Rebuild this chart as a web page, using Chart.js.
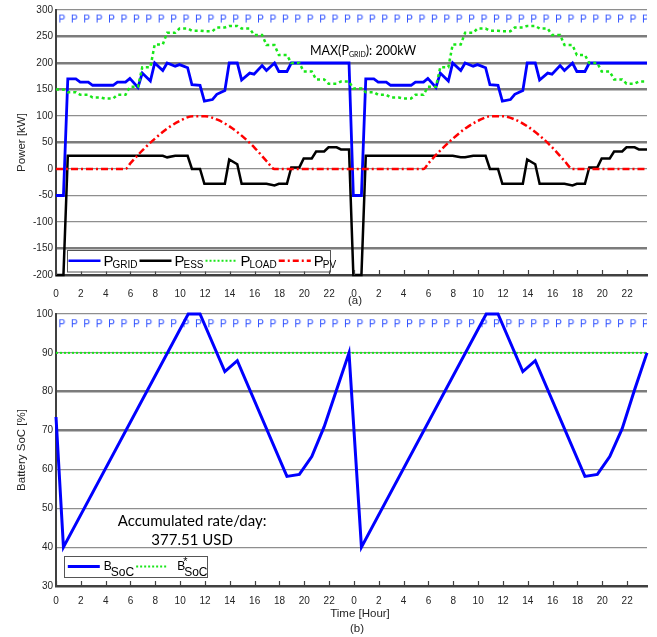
<!DOCTYPE html>
<html>
<head>
<meta charset="utf-8">
<script src="https://cdn.jsdelivr.net/npm/chart.js@4.4.1/dist/chart.umd.min.js"></script>
<style>
html, body { margin: 0; padding: 0; background: #fff; }
#wrap { position: relative; width: 657px; height: 637px; }
#boxA { position: absolute; left: 0; top: 0; width: 657px; height: 310px; }
#boxB { position: absolute; left: 0; top: 305px; width: 657px; height: 332px; }
</style>
</head>
<body>
<div id="wrap">
  <div id="boxA"><canvas id="chartA"></canvas></div>
  <div id="boxB"><canvas id="chartB"></canvas></div>
</div>
<script>
// ---- data ----
const hours = Array.from({ length: 48 }, (_, h) => h);
// every hourly value is held from just before the hour to ~h+0.6, then ramps to the next one
const stepTimes = hours.flatMap(h => [h === 0 ? 0 : h - 0.05, h + 0.6]);

const xTickLabels = ['0', '2', '4', '6', '8', '10', '12', '14', '16', '18', '20', '22',
                     '0', '2', '4', '6', '8', '10', '12', '14', '16', '18', '20', '22'];

// P_GRID [kW], two readings per hour
const pGrid = [
  -50, -50, 170, 170, 164, 164, 158, 158, 158, 158, 164, 164, 171, 154, 181, 166,
  200, 186, 200, 194, 197, 191, 159, 158, 128, 131, 141, 148, 200, 200, 168, 181,
  179, 195, 186, 200, 184, 184, 200, 200, 200, 200, 200, 200, 200, 200, 200, 200,
  -50, -50, 170, 170, 164, 164, 158, 158, 158, 158, 164, 164, 171, 154, 181, 166,
  200, 186, 200, 194, 197, 191, 159, 158, 128, 131, 141, 148, 200, 200, 168, 181,
  179, 195, 186, 200, 184, 184, 200, 200, 200, 200, 200, 200, 200, 200, 200, 200
];

// P_ESS [kW], two readings per hour
const pEss = [
  -200, -200, 25, 25, 25, 25, 25, 25, 25, 25, 25, 25, 25, 25, 25, 25,
  25, 25, 22, 25, 25, 25, 0, 0, -28, -28, -28, -28, 18, 9, -28, -28,
  -28, -28, -28, -31, -28, -28, 3, 3, 20, 20, 33, 33, 41, 41, 37, 37,
  -200, -200, 25, 25, 25, 25, 25, 25, 25, 25, 25, 25, 25, 25, 25, 25,
  25, 22, 22, 25, 25, 25, 0, 0, -28, -28, -28, -28, 18, 9, -28, -28,
  -28, -28, -28, -31, -28, -28, 3, 3, 20, 20, 33, 33, 41, 41, 37, 37
];

// P_LOAD [kW], one reading per hour
const pLoad = [
  150, 145, 140, 135, 133, 140, 155, 192, 235, 257, 265, 261,
  260, 267, 270, 265, 253, 234, 215, 200, 184, 169, 161, 165,
  152, 145, 140, 135, 133, 140, 155, 192, 235, 257, 265, 261,
  260, 267, 270, 265, 253, 234, 215, 200, 184, 169, 161, 165
];

// P_PV [kW]
const pvTimes = [0, 5.6, 6, 7, 8, 9, 10, 11, 12, 13, 14, 15, 16, 17, 17.6,
                 29.6, 30, 31, 32, 33, 34, 35, 36, 37, 38, 39, 40, 41, 41.6, 47.6];
const pvValues = [0, 0, 11, 36, 58, 77, 91, 99.5, 99.5, 93, 80, 62, 40, 14, 0,
                  0, 11, 36, 58, 77, 91, 99.5, 99.5, 93, 80, 62, 40, 14, 0, 0];

// battery state of charge [%]
const socTimes = [0, 0.6, 10.65, 11.6, 13.6, 14.6, 18.6, 19.6, 20.6, 21.6, 22.6, 23.6,
                  24.6, 34.65, 35.6, 37.6, 38.6, 42.6, 43.6, 44.6, 45.6, 46.6, 47.6];
const socValues = [73.5, 40, 100, 100, 85.2, 88, 58.2, 58.7, 63.3, 71, 80.5, 90,
                   40, 100, 100, 85.2, 88, 58.2, 58.7, 63.3, 70.5, 80.5, 90];
const socTarget = 90;

const pMarkTimes = hours.map(h => h + 0.47);

// ---- helpers ----
const FONT = '"Liberation Sans", Arial, sans-serif';
const TXT = '#262626';

function letterP() {
  const c = document.createElement('canvas');
  c.width = 9; c.height = 11;
  const g = c.getContext('2d');
  g.fillStyle = '#2448ff';
  g.font = '10px ' + FONT;
  g.textAlign = 'center';
  g.textBaseline = 'middle';
  g.fillText('P', 4.5, 6);
  return c;
}
const pImg = letterP();

const xy = (ts, vs) => ts.map((t, i) => ({ x: t, y: vs[i] }));

// MATLAB-like inner x ticks, legend with subscripts, free text
const decor = {
  id: 'decor',
  afterDraw(chart, args, opts) {
    const { ctx, chartArea, scales: { x, y } } = chart;
    ctx.save();
    // inner ticks on the time axis
    ctx.strokeStyle = '#404040';
    ctx.lineWidth = 1.2;
    for (const t of x.ticks) {
      const px = Math.round(x.getPixelForValue(t.value)) + 0.5;
      ctx.beginPath();
      ctx.moveTo(px, chartArea.bottom);
      ctx.lineTo(px, chartArea.bottom - 5);
      ctx.stroke();
    }
    // text notes in data coordinates
    for (const n of opts.notes || []) {
      let w = 0;
      for (const p of n.parts) { ctx.font = p.font; w += ctx.measureText(p.text).width; }
      let px = x.getPixelForValue(n.x) - (n.center ? w / 2 : 0);
      const py = y.getPixelForValue(n.y);
      ctx.fillStyle = '#000';
      ctx.textBaseline = 'alphabetic';
      ctx.textAlign = 'left';
      for (const p of n.parts) {
        ctx.font = p.font;
        ctx.fillText(p.text, px, py + (p.dy || 0));
        px += ctx.measureText(p.text).width;
      }
    }
    // captions below the axis
    ctx.fillStyle = TXT;
    ctx.textAlign = 'center';
    ctx.textBaseline = 'middle';
    ctx.font = '11.5px ' + FONT;
    for (const c of opts.captions || []) ctx.fillText(c.text, c.x, c.y);
    // legend
    const lg = opts.legend;
    if (lg) {
      const x0 = chartArea.left + lg.dx, y0 = chartArea.bottom - lg.dy;
      ctx.fillStyle = '#fff';
      ctx.fillRect(x0, y0, lg.w, lg.h);
      ctx.strokeStyle = '#555';
      ctx.lineWidth = 1;
      ctx.strokeRect(Math.round(x0) + 0.5, Math.round(y0) + 0.5, lg.w, lg.h);
      const ym = y0 + lg.h / 2;
      let cx = x0 + lg.pad;
      ctx.textAlign = 'left';
      ctx.textBaseline = 'alphabetic';
      for (const it of lg.items) {
        ctx.strokeStyle = it.color;
        ctx.lineWidth = it.width;
        ctx.setLineDash(it.dash || []);
        ctx.beginPath();
        ctx.moveTo(cx, ym);
        ctx.lineTo(cx + lg.sample, ym);
        ctx.stroke();
        ctx.setLineDash([]);
        cx += lg.sample + it.gap;
        ctx.fillStyle = '#000';
        ctx.font = lg.mainFont;
        ctx.fillText(it.main, cx, ym + lg.mainBase);
        const mw = ctx.measureText(it.main).width;
        if (it.sup) {
          ctx.font = lg.supFont;
          ctx.fillText(it.sup, cx + mw - 2, ym + lg.supBase);
        }
        cx += mw;
        ctx.font = lg.subFont;
        ctx.fillText(it.sub, cx - 1, ym + lg.subBase);
        cx += ctx.measureText(it.sub).width + 1;
      }
    }
    ctx.restore();
  }
};

function xScale(pad, height) {
  return {
    type: 'linear', min: 0, max: 47.6,
    afterFit: s => { s.height = height; },
    ticks: {
      stepSize: 2, includeBounds: false, padding: pad, color: TXT,
      font: { family: FONT, size: 10 }, maxRotation: 0, autoSkip: false,
      callback: (v, i) => xTickLabels[i]
    },
    grid: { display: false, drawTicks: false },
    border: { color: '#404040', width: 2.5 }
  };
}

function yScale(min, max, step, thick, title) {
  return {
    min, max,
    afterFit: s => { s.width = 56; },
    ticks: { stepSize: step, padding: 3, color: TXT, font: { family: FONT, size: 10 } },
    grid: {
      drawTicks: false,
      color: c => thick.includes(c.tick && c.tick.value) ? '#7c7c7c' : '#8e8e8e',
      lineWidth: c => thick.includes(c.tick && c.tick.value) ? 2.6 : 1.2
    },
    border: { color: '#404040', width: 2 },
    title: { display: true, text: title, color: TXT, padding: { top: 15, bottom: 0 },
             font: { family: FONT, size: 11.5 } }
  };
}

const sharedPlugins = { legend: { display: false }, tooltip: { enabled: false } };

// ---- chart (a) ----
new Chart(document.getElementById('chartA'), {
  type: 'line',
  data: {
    datasets: [
      { label: 'P', data: pMarkTimes.map(t => ({ x: t, y: 283 })), showLine: false,
        pointStyle: pImg, pointRadius: 4, order: 0 },
      { label: 'PV', data: xy(pvTimes, pvValues), borderColor: '#ff0000', borderWidth: 2.5,
        borderDash: [7, 3, 2, 3], cubicInterpolationMode: 'monotone', pointRadius: 0, order: 1, clip: false },
      { label: 'LOAD', data: xy(stepTimes, stepTimes.map((t, i) => pLoad[i >> 1])), borderColor: '#19e619',
        borderWidth: 2.5, borderDash: [3, 3], pointRadius: 0, order: 2, clip: false },
      { label: 'ESS', data: xy(stepTimes, pEss), borderColor: '#000000', borderWidth: 2.5,
        pointRadius: 0, order: 3, clip: false },
      { label: 'GRID', data: xy(stepTimes, pGrid), borderColor: '#0000ff', borderWidth: 2.8,
        pointRadius: 0, order: 4, clip: false }
    ]
  },
  options: {
    responsive: true, maintainAspectRatio: false, animation: false,
    layout: { padding: { top: 10, right: 10, left: 0, bottom: 0 } },
    scales: {
      x: xScale(13, 35),
      y: yScale(-200, 300, 50, [250, 200, 150, 50, -150], 'Power [kW]')
    },
    plugins: Object.assign({}, sharedPlugins, {
      decor: {
        notes: [
          { x: 20.45, y: 215, parts: [
            { text: 'MAX(P', font: '12.5px Lato, sans-serif' },
            { text: 'GRID', font: '7px Lato, sans-serif', dy: 1.5 },
            { text: '): 200kW', font: '12.5px Lato, sans-serif' } ] }
        ],
        captions: [{ text: '(a)', x: 355, y: 301 }],
        legend: {
          dx: 10.5, dy: 25, w: 263, h: 21.5, pad: 2, sample: 32,
          mainFont: '15px ' + FONT, subFont: '10px "Liberation Sans Narrow", ' + FONT,
          supFont: '10px ' + FONT, mainBase: 5.5, subBase: 7, supBase: -4,
          items: [
            { main: 'P', sub: 'GRID', color: '#0000ff', width: 2.5, gap: 3 },
            { main: 'P', sub: 'ESS', color: '#000000', width: 2.5, gap: 3 },
            { main: 'P', sub: 'LOAD', color: '#19e619', width: 2, dash: [2, 2], gap: 3 },
            { main: 'P', sub: 'PV', color: '#ff0000', width: 2.5, dash: [6, 3, 2, 3], gap: 3 }
          ]
        }
      }
    })
  },
  plugins: [decor]
});

// ---- chart (b) ----
new Chart(document.getElementById('chartB'), {
  type: 'line',
  data: {
    datasets: [
      { label: 'SoC', data: xy(socTimes, socValues), borderColor: '#0000ff', borderWidth: 3,
        pointRadius: 0, order: 1, clip: false },
      { label: 'SoC*', data: [{ x: 0, y: socTarget }, { x: 47.6, y: socTarget }], borderColor: '#19e619',
        borderWidth: 2, borderDash: [2, 2], pointRadius: 0, order: 2, clip: false },
      { label: 'P', data: pMarkTimes.map(t => ({ x: t, y: 97.5 })), showLine: false,
        pointStyle: pImg, pointRadius: 4, order: 3 }
    ]
  },
  options: {
    responsive: true, maintainAspectRatio: false, animation: false,
    layout: { padding: { top: 9, right: 10, left: 0, bottom: 0 } },
    scales: {
      x: xScale(9, 51),
      y: yScale(30, 100, 10, [80, 70], 'Battery SoC [%]')
    },
    plugins: Object.assign({}, sharedPlugins, {
      decor: {
        notes: [
          { x: 10.96, y: 45.4, center: true, parts: [{ text: 'Accumulated rate/day:', font: '15px Lato, sans-serif' }] },
          { x: 10.96, y: 40.5, center: true, parts: [{ text: '377.51 USD', font: '15px Lato, sans-serif' }] }
        ],
        captions: [{ text: 'Time [Hour]', x: 360, y: 309 }, { text: '(b)', x: 357, y: 324 }],
        legend: {
          dx: 7.8, dy: 30, w: 143, h: 21, pad: 4, sample: 32,
          mainFont: '12px ' + FONT, subFont: '12px "Liberation Sans Narrow", ' + FONT,
          supFont: '11px ' + FONT, mainBase: 3, subBase: 9, supBase: -2,
          items: [
            { main: 'B', sub: 'SoC', color: '#0000ff', width: 2.8, gap: 4 },
            { main: 'B', sub: 'SoC', sup: '*', color: '#19e619', width: 2, dash: [2, 2], gap: 9 }
          ]
        }
      }
    })
  },
  plugins: [decor]
});
</script>
</body>
</html>
